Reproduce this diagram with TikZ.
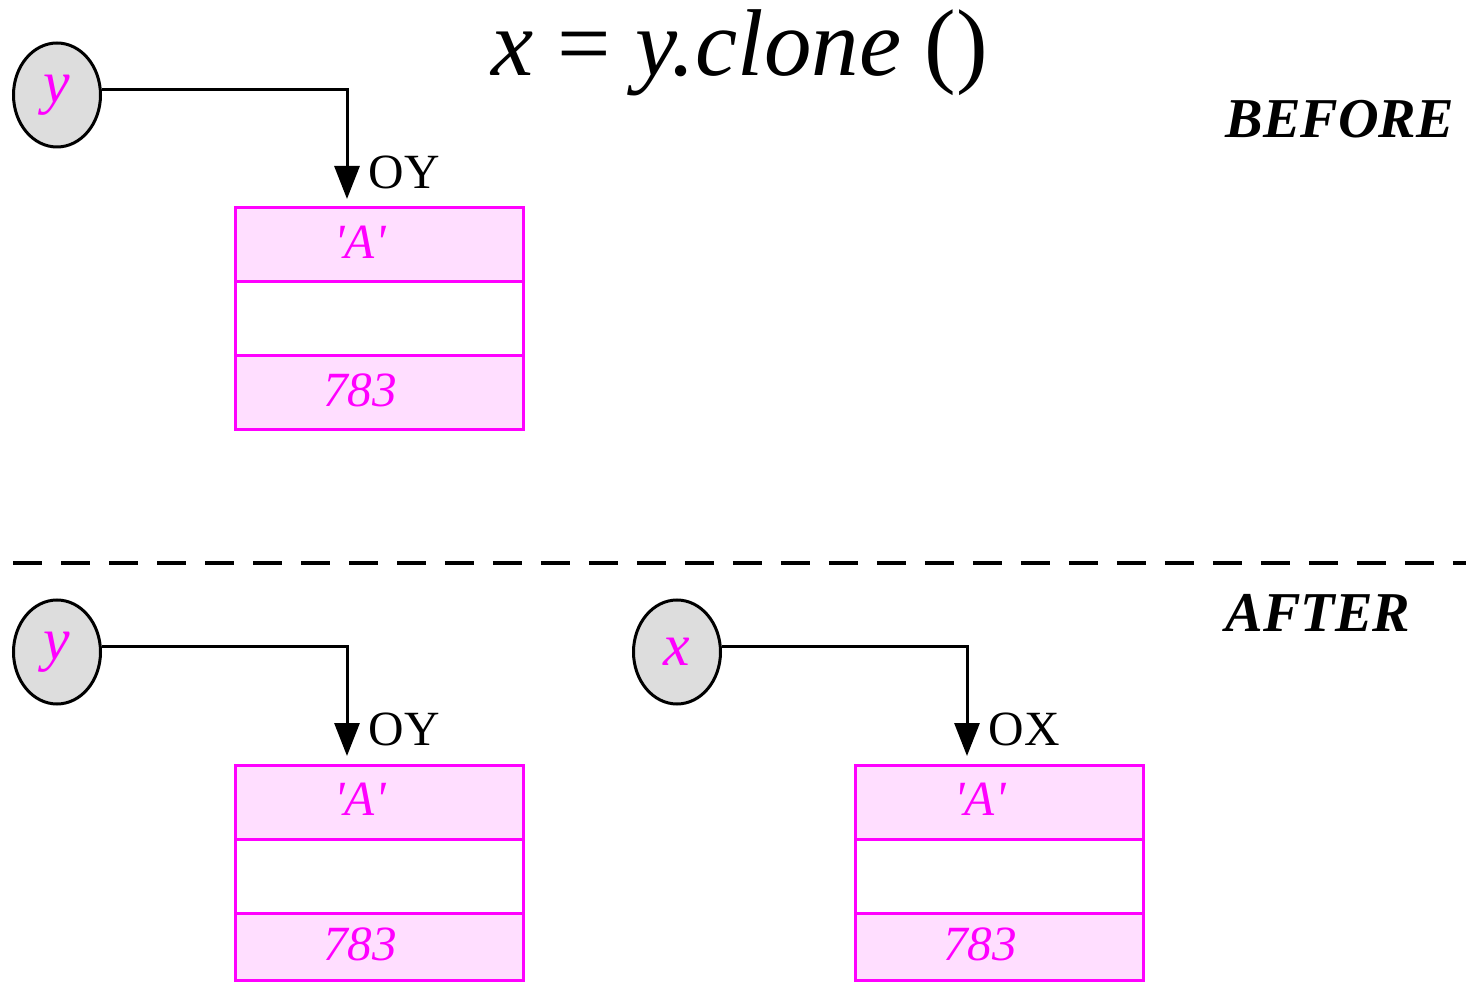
\documentclass[tikz,border=0pt]{standalone}
\usepackage{fontspec}
\setmainfont{Liberation Serif}
\usetikzlibrary{positioning,shapes.geometric,arrows.meta}
\definecolor{objline}{RGB}{255,0,255}
\definecolor{objfill}{RGB}{255,222,255}
\definecolor{varfill}{RGB}{221,221,221}
\tikzset{
  varnode/.style={ellipse,draw,line width=0.03cm,fill=varfill,minimum width=0.87cm,minimum height=1.04cm,inner sep=0pt,text=objline,font=\fontsize{17}{17}\selectfont\itshape},
  objcell/.style={rectangle,draw=objline,line width=0.03cm,minimum width=2.88cm,inner sep=0pt,outer sep=0pt,text=objline,font=\fontsize{14}{14}\selectfont\itshape},
  refline/.style={-{Triangle[width=0.25cm,length=0.33cm]},line width=0.03cm,shorten >=0.09cm},
  reflab/.style={anchor=west,inner sep=0pt,font=\fontsize{14}{14}\selectfont},
  stage/.style={anchor=base west,inner sep=0pt,font=\fontsize{16}{16}\selectfont\bfseries\itshape}
}
\begin{document}
\begin{tikzpicture}
  \useasboundingbox (0,0) rectangle (14.66,-9.82);
  % title and the two stages
  \node[anchor=base,inner sep=0pt,font=\fontsize{27}{30}\selectfont] (title) at (7.40,-0.76) {\textit{x} = \textit{y.clone} ()};
  \node[stage] (before) at (12.25,-1.38) {BEFORE};
  \node[stage] (after) at (12.25,-6.32) {AFTER};
  % separator
  \draw[line width=0.04cm,dash pattern=on 0.29cm off 0.19cm] (0.13,-5.63) -- (14.66,-5.63);
  %% variables and their objects
  % name/variable/x-shift/y-shift/label/height of last cell
  \foreach \n/\vname/\dx/\dy/\lab/\hb in {Y1/y/0/0/OY/0.74, Y2/y/0/-5.57/OY/0.67, X2/x/6.2/-5.57/OX/0.67}
  {
    \node[varnode] (v\n) at (0.57+\dx,-0.95+\dy) {\vname};
    \node[objcell,fill=objfill,minimum height=0.74cm] (a\n) at (3.79+\dx,-2.45+\dy) {\raisebox{0.05cm}{\textquotesingle A\textquotesingle}\hspace*{0.38cm}};
    \node[objcell,fill=white,minimum height=0.74cm,below=0pt of a\n] (m\n) {};
    \node[objcell,fill=objfill,minimum height=\hb cm,below=0pt of m\n] (b\n) {\raisebox{0.05cm}{783}\hspace*{0.38cm}};
    \node[reflab] (l\n) at (3.68+\dx,-1.72+\dy) {\lab};
    \draw[refline] (v\n.7) -| ([xshift=1.12cm]a\n.north west);
  }
\end{tikzpicture}
\end{document}
